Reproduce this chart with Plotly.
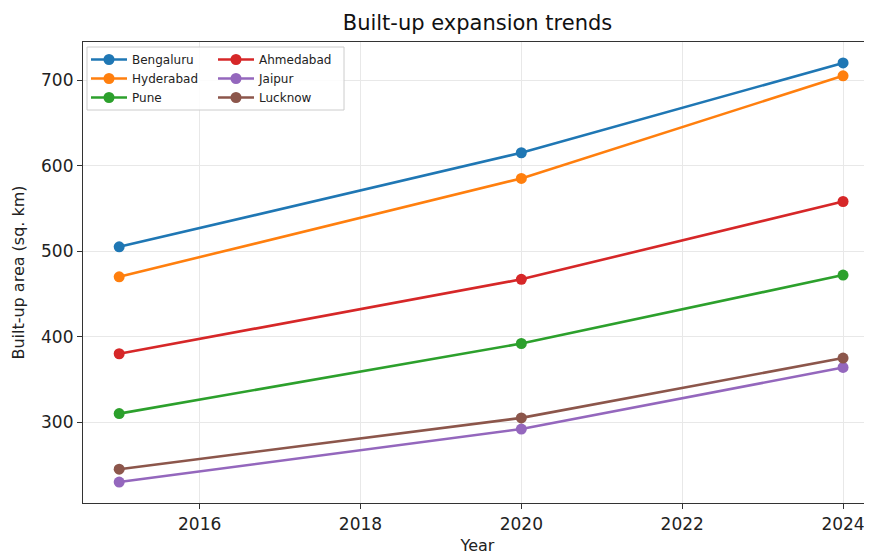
import plotly.graph_objects as go

years = [2015, 2020, 2024]
cities = ["Bengaluru", "Hyderabad", "Pune", "Ahmedabad", "Jaipur", "Lucknow"]
bengaluru = [505, 615, 720]
hyderabad = [470, 585, 705]
pune = [310, 392, 472]
ahmedabad = [380, 467, 558]
jaipur = [230, 292, 364]
lucknow = [245, 305, 375]
series = [bengaluru, hyderabad, pune, ahmedabad, jaipur, lucknow]
colors = ["#1f77b4", "#ff7f0e", "#2ca02c", "#d62728", "#9467bd", "#8c564b"]
legend_of = ["legend", "legend", "legend", "legend2", "legend2", "legend2"]

fig = go.Figure()
for name, vals, c, lg in zip(cities, series, colors, legend_of):
    fig.add_trace(go.Scatter(
        x=years, y=vals, name=name, mode="lines+markers",
        line=dict(color=c, width=2.6),
        marker=dict(color=c, size=11),
        legend=lg,
    ))

# page body has an 8px margin; figure is laid out in its own coordinates
OFF = 8
W, H = 872 - OFF, 555 - OFF
ml, mr, mt, mb = 83 - OFF, 0, 42 - OFF, 52

def px(x, y):
    x -= OFF
    y -= OFF
    return (x - ml) / (W - ml - mr), 1 - (y - mt) / (H - mt - mb)

x0, y0 = px(87, 47)
x1, y1 = px(344, 110)
fig.add_shape(type="rect", xref="paper", yref="paper", x0=x0, y0=y1, x1=x1, y1=y0,
              line=dict(color="#cccccc", width=1), fillcolor="rgba(255,255,255,0.85)",
              layer="above")

lx1, ly = px(86, 45)
lx2, _ = px(213, 45)
legend_style = dict(font=dict(family="DejaVu Sans", size=12, color="#222"),
                    bgcolor="rgba(0,0,0,0)", borderwidth=0,
                    xanchor="left", yanchor="top", tracegroupgap=0,
                    itemwidth=36)

fig.update_layout(
    width=W, height=H,
    margin=dict(l=ml, r=mr, t=mt, b=mb),
    paper_bgcolor="white", plot_bgcolor="white",
    font=dict(family="DejaVu Sans", size=17, color="#222"),
    title=dict(text="Built-up expansion trends", x=0.5, xref="paper", xanchor="center",
               y=1 - (23 - OFF) / H, yanchor="middle",
               font=dict(family="DejaVu Sans", size=21, color="#111")),
    legend=dict(x=lx1, y=ly, **legend_style),
    legend2=dict(x=lx2, y=ly, **legend_style),
    xaxis=dict(range=[2014.55, 2024.36], tickvals=[2016, 2018, 2020, 2022, 2024],
               showgrid=True, gridcolor="#e8e8e8", gridwidth=1,
               showline=True, linecolor="#333", linewidth=1.2, mirror=True,
               ticks="outside", ticklen=5, tickcolor="#333",
               zeroline=False, automargin=False,
               title=dict(text="Year", standoff=10, font=dict(size=16))),
    yaxis=dict(range=[205.5, 744.5], tickvals=[300, 400, 500, 600, 700],
               showgrid=True, gridcolor="#e8e8e8", gridwidth=1,
               showline=True, linecolor="#333", linewidth=1.2, mirror=False,
               ticks="outside", ticklen=5, tickcolor="#333",
               zeroline=False, automargin=False,
               title=dict(text="Built-up area (sq. km)", standoff=12, font=dict(size=16))),
)

fig.write_html("out.html")
